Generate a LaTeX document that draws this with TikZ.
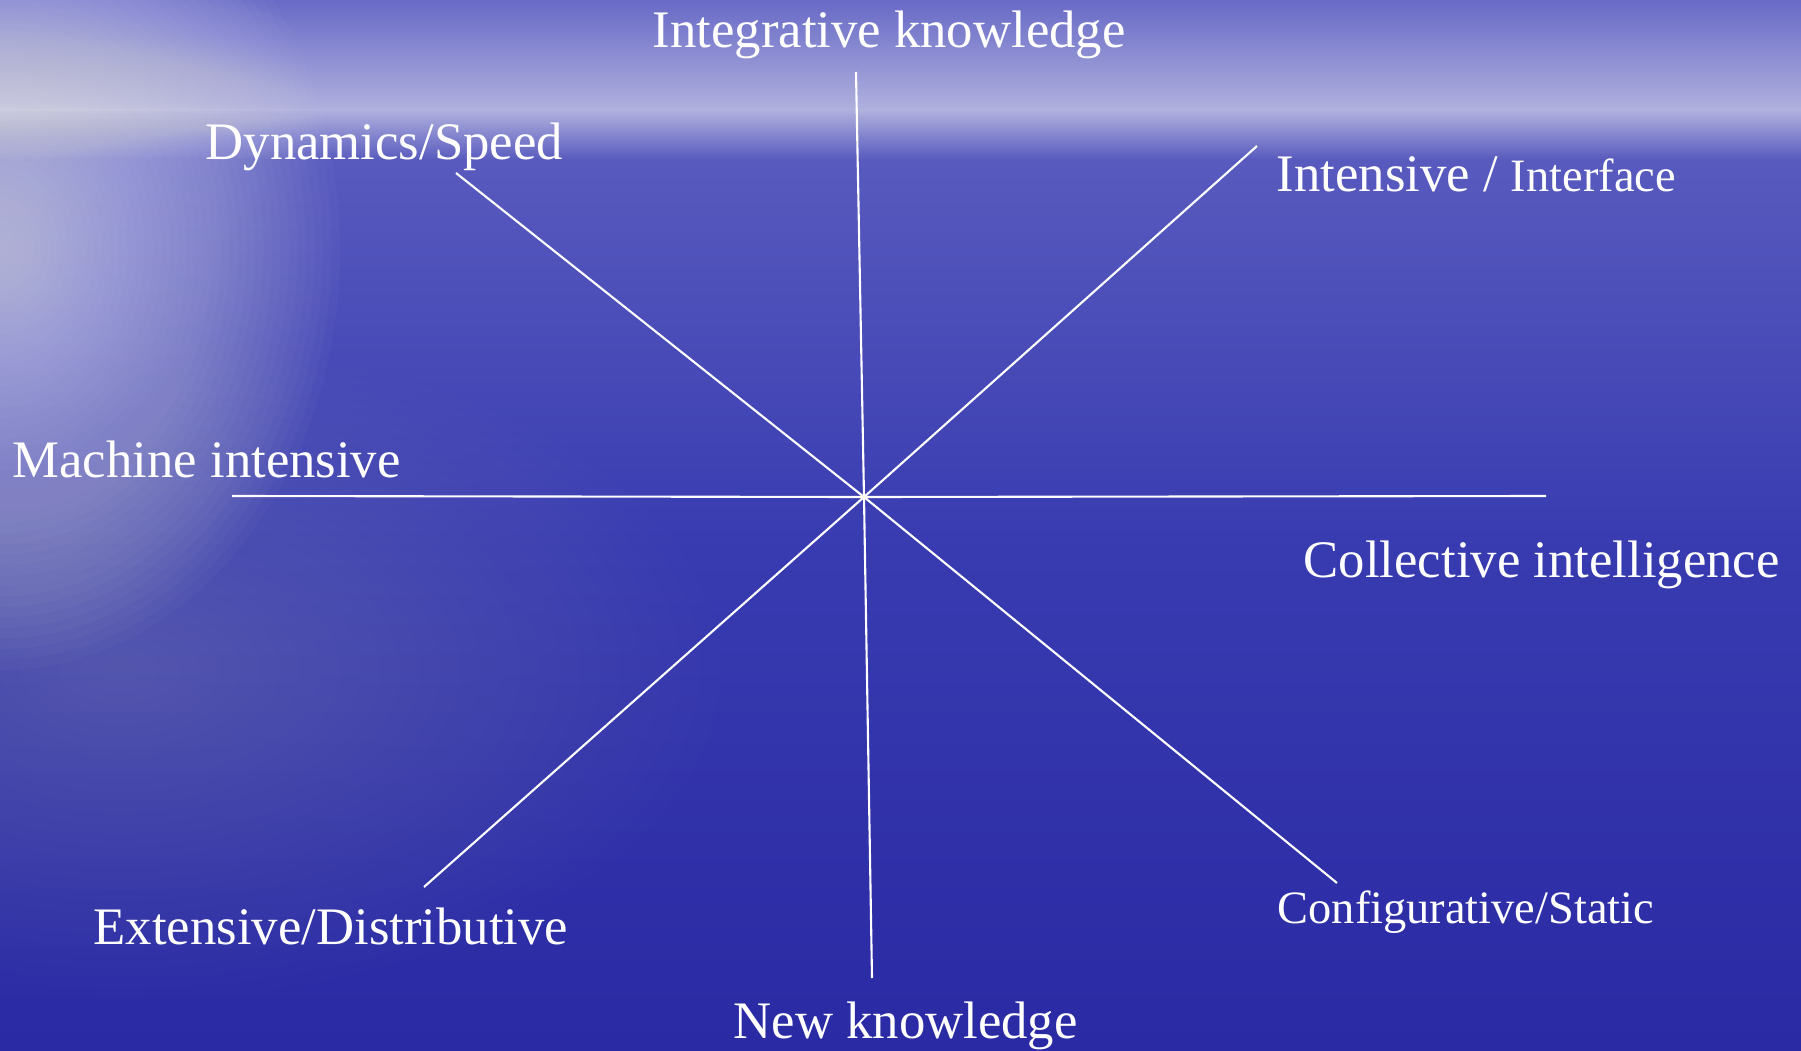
\documentclass[tikz,border=0pt]{standalone}
\usepackage{fontspec}
\setmainfont{Liberation Serif}
\usepackage{tikz}
\usetikzlibrary{positioning}
\definecolor{skytop}{RGB}{104,106,198}
\definecolor{skyband}{RGB}{176,176,222}
\definecolor{seahigh}{RGB}{88,90,190}
\definecolor{seamid}{RGB}{56,59,176}
\definecolor{sealow}{RGB}{42,42,164}

\begin{document}
\begin{tikzpicture}[lbl/.style={text=white,inner sep=0pt,anchor=base west,font=\fontsize{15}{18}\selectfont},
  small/.style={font=\fontsize{13.2}{16}\selectfont},
  ray/.style={white,line width=0.6pt}]
\useasboundingbox (0,0) rectangle (18.01,10.50);
\shade[top color=skytop,bottom color=skyband] (0,10.50) rectangle (18.01,9.40);
\shade[top color=skyband,bottom color=seahigh] (0,9.40) rectangle (18.01,8.90);
\shade[top color=seahigh,bottom color=seamid] (0,8.90) rectangle (18.01,5.00);
\shade[top color=seamid,bottom color=sealow] (0,5.00) rectangle (18.01,0);
\foreach \r in {1,...,40}
  \fill[white,opacity=0.022] (0,8.0) ellipse ({0.085*\r} and {0.105*\r});
\foreach \r in {1,...,30}
  \fill[white,opacity=0.009] (1.2,3.8) ellipse ({0.2*\r} and {0.11*\r});

\coordinate (c) at (8.64,5.53);
\coordinate (n) at (8.56,9.78);
\coordinate (s) at (8.72,0.72);
\coordinate (w) at (2.32,5.54);
\coordinate (e) at (15.46,5.54);
\coordinate (nw) at (4.56,8.77);
\coordinate (se) at (13.37,1.67);
\coordinate (ne) at (12.57,9.04);
\coordinate (sw) at (4.24,1.63);

\draw[ray] (n) -- (c) -- (s);
\draw[ray] (w) -- (c) -- (e);
\draw[ray] (nw) -- (c) -- (se);
\draw[ray] (ne) -- (c) -- (sw);

\node[lbl] (ik) at (6.52,10.02) {Integrative knowledge};
\node[lbl] (ds) at (2.05,8.90) {Dynamics/Speed};
\node[lbl] (ii) at (12.76,8.58) {Intensive / {\fontsize{13.2}{16}\selectfont Interface}};
\node[lbl] (mi) at (0.12,5.72) {Machine intensive};
\node[lbl] (ci) at (13.03,4.73) {Collective intelligence};
\node[lbl] (ed) at (0.93,1.06) {Extensive/Distributive};
\node[lbl,small] (cs) at (12.77,1.27) {Configurative/Static};
\node[lbl] (nk) at (7.33,0.12) {New knowledge};
\end{tikzpicture}
\end{document}
